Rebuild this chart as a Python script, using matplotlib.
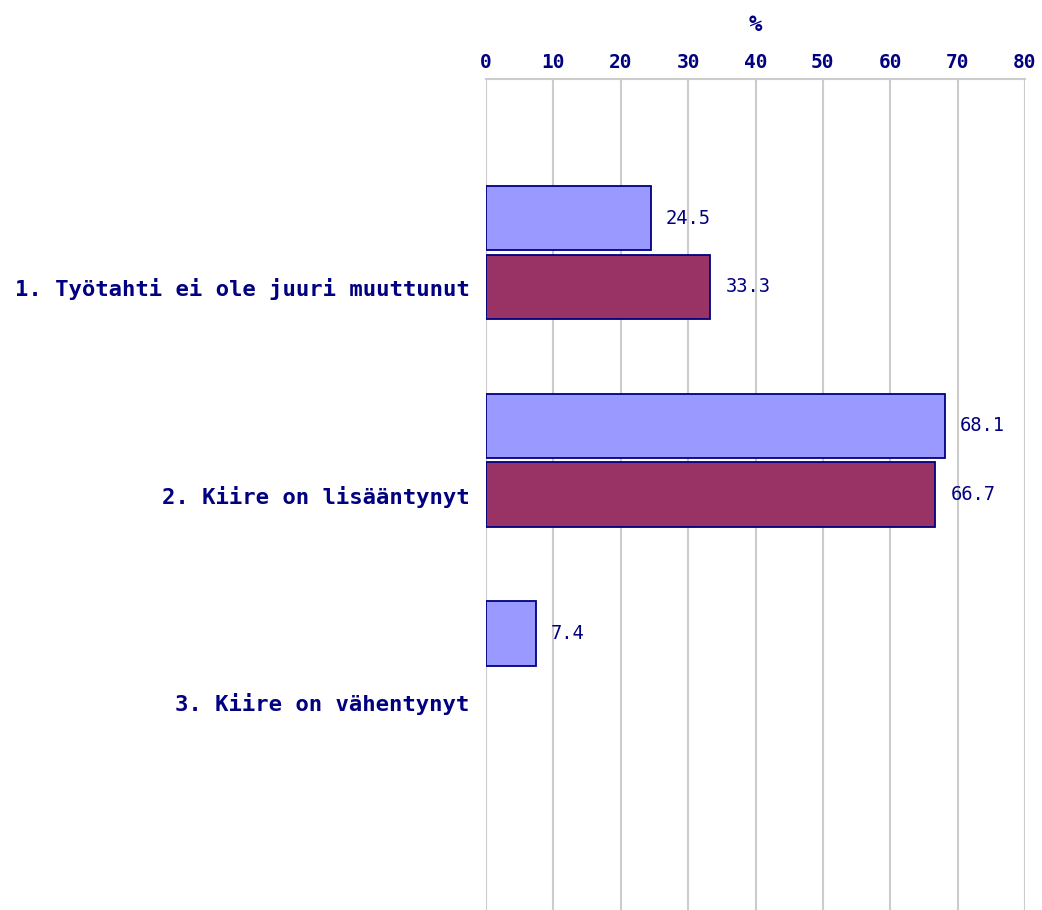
import matplotlib.pyplot as plt
import numpy as np

categories = ['1. Työtahti ei ole juuri muuttunut',
              '2. Kiire on lisääntynyt',
              '3. Kiire on vähentynyt']
series_a = [24.5, 68.1, 7.4]
series_b = [33.3, 66.7, None]
xticks = [0, 10, 20, 30, 40, 50, 60, 70, 80]

navy = '#000080'
color_a = '#9999FF'
color_b = '#993366'

fig = plt.figure(figsize=(10.42, 9.10), dpi=100)
ax = fig.add_axes([486 / 1042, 0, (1025 - 486) / 1042, 1 - 79 / 910])

pos = np.arange(1, len(categories) + 1)
bar_h = 0.31
off_a = -0.33

mono = 'DejaVu Sans Mono'
for i, (a, b) in enumerate(zip(series_a, series_b)):
    y = pos[i]
    if a is not None:
        ax.barh(y + off_a, a, height=bar_h, color=color_a, edgecolor=navy, linewidth=1.3, zorder=3)
        ax.annotate(f'{a:.1f}', (a, y + off_a), xytext=(15, 0), textcoords='offset pixels',
                    va='center', ha='left', color=navy, fontsize=13.5, family=mono)
    if b is not None:
        ax.barh(y, b, height=bar_h, color=color_b, edgecolor=navy, linewidth=1.3, zorder=3)
        ax.annotate(f'{b:.1f}', (b, y), xytext=(15, 0), textcoords='offset pixels',
                    va='center', ha='left', color=navy, fontsize=13.5, family=mono)

ax.set_xlim(0, 80)
ax.set_ylim(4, 0)
ax.set_xticks(xticks)
ax.xaxis.tick_top()
ax.xaxis.set_label_position('top')
ax.set_xlabel('%', color=navy, fontsize=16, fontweight='bold', family=mono, labelpad=16)
ax.tick_params(axis='x', length=0, pad=5, labelcolor=navy, labelsize=14)
for lab in ax.get_xticklabels():
    lab.set_fontweight('bold')
    lab.set_family(mono)

ax.set_yticks(pos)
ax.set_yticklabels(categories)
ax.tick_params(axis='y', length=0, pad=12, labelcolor=navy, labelsize=16)
for lab in ax.get_yticklabels():
    lab.set_fontweight('bold')
    lab.set_family(mono)

ax.grid(axis='x', color='#cccccc', linewidth=1.5, zorder=0)
ax.set_axisbelow(True)
for side in ['left', 'right', 'bottom']:
    ax.spines[side].set_visible(False)
ax.spines['top'].set_color('#cccccc')
ax.spines['top'].set_linewidth(1.5)

fig.savefig('out.png', dpi=100)
